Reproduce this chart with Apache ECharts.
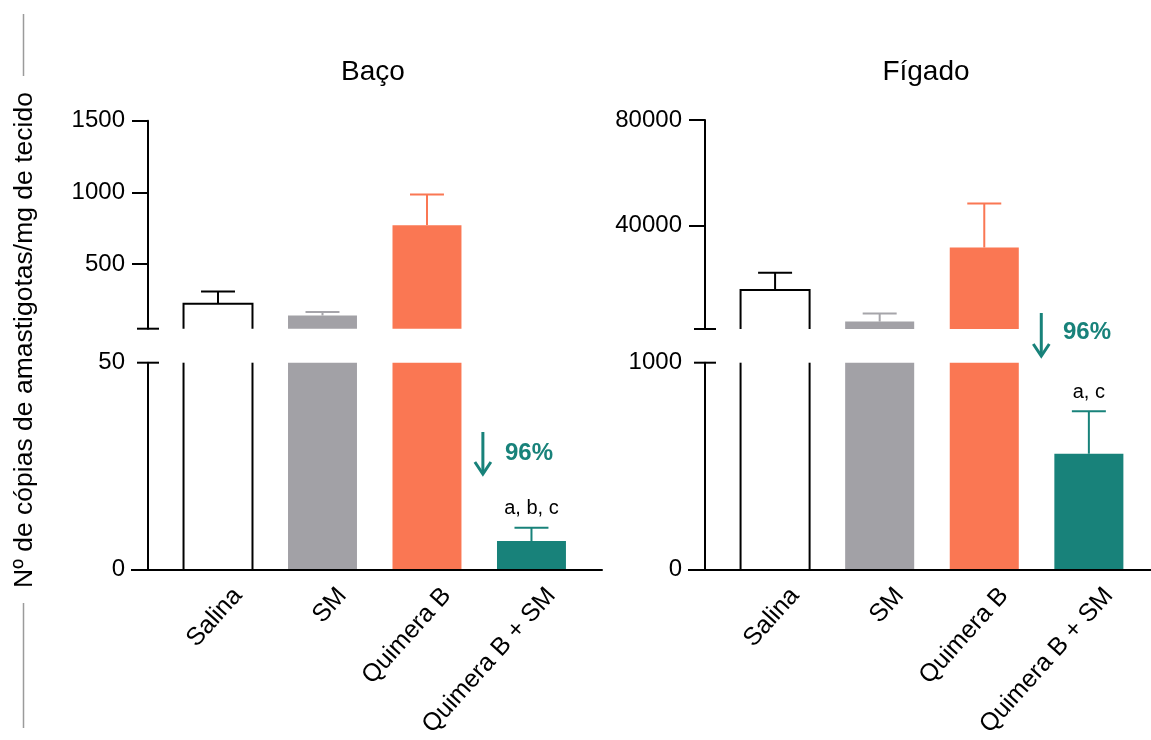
<!DOCTYPE html>
<html>
<head>
<meta charset="utf-8">
<script src="https://cdn.jsdelivr.net/npm/echarts@6/dist/echarts.min.js"></script>
<style>html,body{margin:0;padding:0;background:#fff}#c{width:1151px;height:740px}</style>
</head>
<body>
<div id="c"></div>
<script>
// ---------- data ----------
const categories = ['Salina', 'SM', 'Quimera B', 'Quimera B + SM'];
const bacoMean = [224, 142, 772, 6.9];
const bacoSD = [85, 24, 213, 3.2];
const figadoMean = [15700, 3800, 31800, 560];
const figadoSD = [6600, 3100, 16600, 205];
const bacoUpperTicks = [500, 1000, 1500];
const bacoLowerTicks = [0, 50];
const figadoUpperTicks = [40000, 80000];
const figadoLowerTicks = [0, 1000];
const bacoSig = ['', '', '', 'a, b, c'];
const figadoSig = ['', '', '', 'a, c'];
const reductionLabel = '96%';
const panelTitles = ['Baço', 'Fígado'];
const yAxisTitle = 'Nº de cópias de amastigotas/mg de tecido';

// ---------- style ----------
const FONT = '"Liberation Sans", Arial, Helvetica, sans-serif';
const fillColors = ['#ffffff', '#a2a1a6', '#fa7753', '#18827a'];
const errColors = ['#000000', '#a6a5aa', '#fa7753', '#18827a'];
const TEAL = '#18827a';
const BAR_W = 0.66, CAP_W = 0.325, LABEL_SHIFT = 0.19;

const G = [
  {left: 148, top: 120.7, width: 454, height: 208},    // Baço upper
  {left: 148, top: 362.7, width: 454, height: 207.3},  // Baço lower
  {left: 705, top: 120, width: 446, height: 209},      // Fígado upper
  {left: 705, top: 362.7, width: 446, height: 207.3}   // Fígado lower
];
const XR = [[-0.67, 3.675], [-0.67, 3.675], [-0.67, 3.594], [-0.67, 3.594]];
const YR = [[50, 1500], [0, 50], [1000, 80000], [0, 1000]];
const TICKS = [bacoUpperTicks, bacoLowerTicks, figadoUpperTicks, figadoLowerTicks];
const TICK_SHOW = [bacoUpperTicks, [0], figadoUpperTicks, [0]];

function makeRender(sig, showSig) {
  return function (params, api) {
    const cs = params.coordSys;
    const top = cs.y, bot = cs.y + cs.height;
    const clampY = y => Math.max(top, Math.min(bot, y));
    const inside = y => y >= top - 0.01 && y <= bot + 0.01;
    const i = api.value(0), m = api.value(1), sd = api.value(2);
    const p0 = api.coord([i, 0]), p1 = api.coord([i, m]), p2 = api.coord([i, m + sd]);
    const bw = api.size([BAR_W, 0])[0], cw = api.size([CAP_W, 0])[0];
    const cx = p1[0], xl = cx - bw / 2, xr = cx + bw / 2;
    const y0 = clampY(p0[1]), y1 = clampY(p1[1]), y2 = clampY(p2[1]);
    const ch = [];
    if (y0 - y1 > 0.1) {
      ch.push({type: 'rect', shape: {x: xl, y: y1, width: bw, height: y0 - y1},
               style: {fill: fillColors[i]}});
      if (i === 0) {
        if (inside(p1[1])) {
          ch.push({type: 'polyline', shape: {points: [[xl, y0], [xl, y1], [xr, y1], [xr, y0]]},
                   style: {fill: null, stroke: '#000', lineWidth: 2, lineJoin: 'miter'}});
        } else {
          ch.push({type: 'line', shape: {x1: xl, y1: y0, x2: xl, y2: y1}, style: {stroke: '#000', lineWidth: 2}});
          ch.push({type: 'line', shape: {x1: xr, y1: y0, x2: xr, y2: y1}, style: {stroke: '#000', lineWidth: 2}});
        }
      }
    }
    if (y1 - y2 > 0.1) {
      ch.push({type: 'line', shape: {x1: cx, y1: y1, x2: cx, y2: y2},
               style: {stroke: errColors[i], lineWidth: 2}});
    }
    if (inside(p2[1])) {
      ch.push({type: 'line', shape: {x1: cx - cw / 2, y1: p2[1], x2: cx + cw / 2, y2: p2[1]},
               style: {stroke: errColors[i], lineWidth: 2}});
      if (showSig && sig[i]) {
        ch.push({type: 'text', x: cx, y: p2[1] - 19,
                 style: {text: sig[i], fill: '#000', font: '20px ' + FONT, align: 'center', verticalAlign: 'middle'}});
      }
    }
    return {type: 'group', children: ch};
  };
}

const chart = echarts.init(document.getElementById('c'), null, {renderer: 'canvas'});

const xAxes = G.map((g, k) => ({
  type: 'value', gridIndex: k, min: XR[k][0], max: XR[k][1],
  show: k % 2 === 1, z: 10,
  axisLine: {show: true, onZero: false, lineStyle: {color: '#000', width: 2}},
  axisTick: {show: false}, splitLine: {show: false},
  axisLabel: {
    show: true, rotate: 48, margin: 22, fontSize: 25, color: '#000', fontFamily: FONT,
    customValues: categories.map((c, i) => i + LABEL_SHIFT),
    formatter: v => categories[Math.round(v - LABEL_SHIFT)]
  }
}));

const yAxes = G.map((g, k) => ({
  type: 'value', gridIndex: k, min: YR[k][0], max: YR[k][1], z: 10,
  axisLine: {show: true, onZero: false, lineStyle: {color: '#000', width: 2}},
  axisTick: {show: true, length: k % 2 === 1 ? 17 : 16, lineStyle: {color: '#000', width: 2},
             customValues: TICK_SHOW[k]},
  axisLabel: {show: true, margin: 23, fontSize: 24, color: '#000', fontFamily: FONT,
              customValues: TICKS[k], formatter: v => String(v)},
  splitLine: {show: false}
}));

function seriesFor(k, means, sds, sig) {
  return {
    type: 'custom', xAxisIndex: k, yAxisIndex: k, clip: false,
    renderItem: makeRender(sig, k % 2 === 1),
    encode: {x: 0, y: 1},
    data: categories.map((c, i) => [i, means[i], sds[i]])
  };
}

chart.setOption({
  animation: false,
  backgroundColor: '#ffffff',
  grid: G.map(g => Object.assign({containLabel: false}, g)),
  xAxis: xAxes,
  yAxis: yAxes,
  series: [
    seriesFor(0, bacoMean, bacoSD, bacoSig),
    seriesFor(1, bacoMean, bacoSD, bacoSig),
    seriesFor(2, figadoMean, figadoSD, figadoSig),
    seriesFor(3, figadoMean, figadoSD, figadoSig)
  ]
});

// ---------- decorations: axis break caps, titles, annotations ----------
const gr = [];
function capLine(x, y) {
  gr.push({type: 'line', shape: {x1: x - 11, y1: y, x2: x + 11, y2: y}, style: {stroke: '#000', lineWidth: 2}, z: 20});
}
capLine(G[0].left, G[0].top + G[0].height);
capLine(G[1].left, G[1].top);
capLine(G[2].left, G[2].top + G[2].height);
capLine(G[3].left, G[3].top);

gr.push({type: 'text', x: 373, y: 72, style: {text: panelTitles[0], font: '28px ' + FONT, fill: '#000', align: 'center', verticalAlign: 'middle'}});
gr.push({type: 'text', x: 926, y: 72, style: {text: panelTitles[1], font: '28px ' + FONT, fill: '#000', align: 'center', verticalAlign: 'middle'}});

gr.push({type: 'text', x: 25, y: 340, rotation: Math.PI / 2,
         style: {text: yAxisTitle, font: '26.5px ' + FONT, fill: '#000', align: 'center', verticalAlign: 'middle'}});
gr.push({type: 'line', shape: {x1: 23.5, y1: 14, x2: 23.5, y2: 76}, style: {stroke: '#9b9b9b', lineWidth: 1.5}});
gr.push({type: 'line', shape: {x1: 23.5, y1: 603, x2: 23.5, y2: 728}, style: {stroke: '#9b9b9b', lineWidth: 1.5}});

function arrow(x, y1, y2, tx, ty) {
  gr.push({type: 'line', shape: {x1: x, y1: y1, x2: x, y2: y2 - 1}, style: {stroke: TEAL, lineWidth: 3}});
  gr.push({type: 'polyline', shape: {points: [[x - 8, y2 - 12], [x, y2], [x + 8, y2 - 12]]},
           style: {stroke: TEAL, lineWidth: 3, fill: null, lineJoin: 'miter'}});
  gr.push({type: 'text', x: tx, y: ty, style: {text: reductionLabel, font: 'bold 24px ' + FONT, fill: TEAL, align: 'left', verticalAlign: 'middle'}});
}
const ax1 = chart.convertToPixel({xAxisIndex: 1}, 2.535);
const ax2 = chart.convertToPixel({xAxisIndex: 3}, 2.545);
arrow(ax1, 432, 474, 505, 453);
arrow(ax2, 313, 356, 1063, 332);

chart.setOption({graphic: gr});
</script>
</body>
</html>
